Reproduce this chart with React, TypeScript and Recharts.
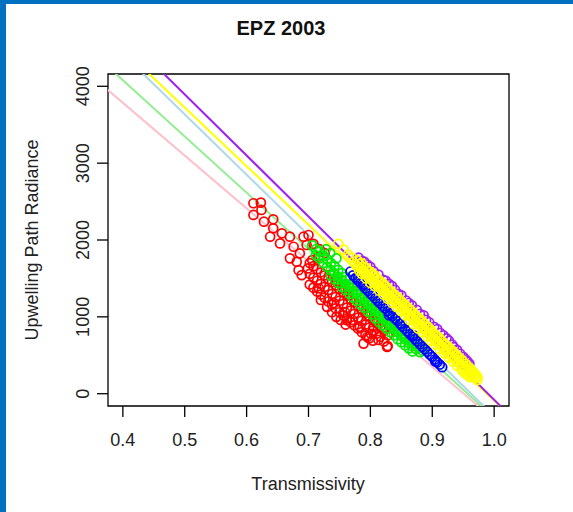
import { ReferenceArea, ReferenceLine, Scatter, ScatterChart, XAxis, YAxis } from 'recharts'

const xTicks = [0.4, 0.5, 0.6, 0.7, 0.8, 0.9, 1.0]
const yTicks = [0, 1000, 2000, 3000, 4000]

// transmissivity / radiance pairs
const redPoints = [
  [0.611, 2478], [0.623, 2486], [0.611, 2326], [0.624, 2391], [0.628, 2238], [0.643, 2269],
  [0.643, 2152], [0.638, 2043], [0.654, 1956], [0.657, 2087], [0.670, 2043], [0.676, 1912],
  [0.670, 1761], [0.681, 1716], [0.684, 1608], [0.689, 1543], [0.692, 2043], [0.700, 2065],
  [0.697, 1935], [0.686, 1826], [0.716, 1782], [0.706, 1739], [0.718, 1880], [0.726, 1830],
  [0.708, 1950], [0.827, 608], [0.805, 869], [0.762, 956], [0.789, 652], [0.795, 738],
  [0.702, 1700], [0.702, 1560], [0.702, 1420], [0.708, 1660], [0.708, 1510], [0.708, 1380],
  [0.714, 1620], [0.714, 1470], [0.714, 1330], [0.720, 1580], [0.720, 1430], [0.720, 1290],
  [0.726, 1540], [0.726, 1390], [0.726, 1250], [0.732, 1490], [0.732, 1350], [0.732, 1200],
  [0.738, 1450], [0.738, 1300], [0.738, 1160], [0.744, 1410], [0.744, 1260], [0.744, 1110],
  [0.750, 1360], [0.750, 1210], [0.750, 1060], [0.756, 1320], [0.756, 1170], [0.756, 1020],
  [0.762, 1280], [0.762, 1120], [0.762, 980], [0.768, 1230], [0.768, 1080], [0.768, 930],
  [0.774, 1190], [0.774, 1040], [0.774, 890], [0.780, 1140], [0.780, 990], [0.780, 850],
  [0.786, 1100], [0.786, 950], [0.786, 800], [0.792, 1050], [0.792, 900], [0.792, 760],
  [0.798, 1010], [0.798, 860], [0.798, 720], [0.804, 960], [0.804, 820], [0.804, 690],
  [0.810, 920], [0.810, 780], [0.816, 870], [0.816, 740], [0.822, 820], [0.822, 680],
  [0.828, 760], [0.828, 620], [0.735, 1550], [0.745, 1460], [0.755, 1370], [0.765, 1280],
  [0.775, 1190], [0.785, 1100], [0.795, 1010], [0.808, 940], [0.699, 1630], [0.717, 1370],
  [0.741, 1180], [0.759, 1060], [0.771, 960], [0.783, 870], [0.801, 780], [0.813, 700],
  [0.745, 1000], [0.752, 960], [0.760, 900], [0.730, 1130], [0.738, 1060], [0.720, 1220],
]

const greenPoints = [
  [0.706, 1930], [0.712, 1880], [0.712, 1800], [0.718, 1850], [0.718, 1760], [0.724, 1790],
  [0.724, 1700], [0.730, 1750], [0.730, 1650], [0.728, 1880], [0.735, 1830], [0.745, 1760],
  [0.736, 1700], [0.736, 1610], [0.736, 1540], [0.742, 1660], [0.742, 1570], [0.742, 1490],
  [0.748, 1610], [0.748, 1520], [0.748, 1440], [0.754, 1570], [0.754, 1480], [0.754, 1390],
  [0.760, 1520], [0.760, 1430], [0.760, 1350], [0.766, 1480], [0.766, 1390], [0.766, 1300],
  [0.772, 1430], [0.772, 1340], [0.772, 1250], [0.778, 1390], [0.778, 1300], [0.778, 1210],
  [0.784, 1340], [0.784, 1250], [0.784, 1160], [0.790, 1290], [0.790, 1200], [0.790, 1120],
  [0.796, 1250], [0.796, 1160], [0.796, 1070], [0.802, 1200], [0.802, 1110], [0.802, 1030],
  [0.808, 1150], [0.808, 1070], [0.808, 980], [0.814, 1110], [0.814, 1020], [0.814, 930],
  [0.820, 1060], [0.820, 980], [0.820, 890], [0.826, 1010], [0.826, 930], [0.826, 850],
  [0.832, 970], [0.832, 890], [0.832, 800], [0.838, 920], [0.838, 840], [0.838, 760],
  [0.844, 880], [0.844, 800], [0.844, 710], [0.850, 830], [0.850, 750], [0.850, 670],
  [0.856, 780], [0.856, 710], [0.856, 630], [0.862, 740], [0.862, 660], [0.862, 590],
  [0.868, 690], [0.868, 620], [0.868, 550], [0.874, 650], [0.874, 580], [0.880, 600],
  [0.880, 540], [0.885, 560],
]

const purplePoints = [
  [0.781, 1770], [0.786, 1730], [0.790, 1720], [0.795, 1680], [0.800, 1650], [0.805, 1595],
  [0.813, 1550], [0.821, 1480], [0.825, 1470], [0.830, 1430], [0.835, 1400], [0.840, 1350],
  [0.845, 1300], [0.850, 1280], [0.858, 1210], [0.862, 1180], [0.867, 1150], [0.875, 1090],
  [0.880, 1040], [0.886, 1020], [0.890, 960], [0.895, 930], [0.903, 870], [0.908, 840],
  [0.913, 790], [0.918, 760], [0.923, 720], [0.927, 690], [0.932, 640], [0.935, 605],
  [0.940, 570], [0.945, 520], [0.950, 480], [0.954, 445], [0.957, 420], [0.960, 390],
]

const bluePoints = [
  [0.768, 1590], [0.772, 1540], [0.776, 1505], [0.780, 1470], [0.784, 1440], [0.788, 1405],
  [0.792, 1370], [0.796, 1340], [0.800, 1305], [0.804, 1275], [0.808, 1240], [0.812, 1205],
  [0.816, 1175], [0.820, 1140], [0.824, 1110], [0.828, 1075], [0.832, 1045], [0.836, 1010],
  [0.840, 975], [0.844, 945], [0.848, 910], [0.852, 875], [0.856, 845], [0.860, 810],
  [0.864, 775], [0.868, 745], [0.872, 710], [0.876, 680], [0.880, 645], [0.884, 610],
  [0.888, 580], [0.892, 545], [0.896, 510], [0.900, 480], [0.904, 445], [0.908, 410],
  [0.912, 380], [0.916, 345], [0.790, 1420], [0.830, 1020], [0.870, 760], [0.905, 420],
  [0.780, 1500], [0.850, 910],
]

const yellowPoints = [
  [0.748, 1950], [0.757, 1875], [0.764, 1810], [0.770, 1770], [0.775, 1690],
  [0.779, 1735], [0.779, 1650], [0.782, 1690], [0.782, 1600], [0.786, 1700], [0.786, 1620],
  [0.786, 1560], [0.789, 1650], [0.789, 1575], [0.793, 1640], [0.793, 1560], [0.793, 1500],
  [0.796, 1600], [0.796, 1520], [0.800, 1590], [0.800, 1505], [0.800, 1440], [0.803, 1560],
  [0.803, 1470], [0.807, 1540], [0.807, 1460], [0.807, 1400], [0.810, 1500], [0.810, 1420],
  [0.814, 1480], [0.814, 1405], [0.814, 1340], [0.817, 1450], [0.817, 1370], [0.821, 1430],
  [0.821, 1350], [0.821, 1290], [0.824, 1400], [0.824, 1320], [0.828, 1370], [0.828, 1300],
  [0.828, 1235], [0.831, 1350], [0.831, 1260], [0.835, 1320], [0.835, 1245], [0.835, 1180],
  [0.838, 1290], [0.838, 1215], [0.842, 1270], [0.842, 1190], [0.842, 1130], [0.845, 1240],
  [0.845, 1160], [0.849, 1210], [0.849, 1140], [0.849, 1075], [0.852, 1180], [0.852, 1100],
  [0.856, 1160], [0.856, 1080], [0.856, 1020], [0.859, 1130], [0.859, 1050], [0.863, 1100],
  [0.863, 1030], [0.863, 960], [0.866, 1080], [0.866, 1000], [0.870, 1050], [0.870, 975],
  [0.870, 905], [0.873, 1020], [0.873, 940], [0.877, 990], [0.877, 920], [0.877, 850],
  [0.880, 970], [0.880, 890], [0.884, 940], [0.884, 865], [0.884, 800], [0.887, 910],
  [0.887, 835], [0.891, 880], [0.891, 810], [0.891, 745], [0.894, 860], [0.894, 780],
  [0.898, 830], [0.898, 755], [0.898, 690], [0.901, 800], [0.901, 725], [0.905, 770],
  [0.905, 700], [0.905, 640], [0.908, 750], [0.908, 670], [0.912, 720], [0.912, 645],
  [0.912, 580], [0.915, 690], [0.915, 615], [0.919, 660], [0.919, 590], [0.919, 525],
  [0.922, 640], [0.922, 560], [0.926, 610], [0.926, 535], [0.926, 470], [0.929, 580],
  [0.929, 505], [0.933, 555], [0.933, 480], [0.933, 420], [0.936, 530], [0.936, 450],
  [0.940, 500], [0.940, 430], [0.940, 365], [0.943, 470], [0.943, 400], [0.947, 445],
  [0.947, 375], [0.947, 320], [0.950, 420], [0.950, 350], [0.950, 290], [0.954, 390],
  [0.954, 320], [0.954, 260], [0.957, 360], [0.957, 295], [0.957, 240], [0.961, 330],
  [0.961, 270], [0.961, 215], [0.964, 300], [0.964, 245], [0.967, 280], [0.967, 220],
  [0.970, 250], [0.970, 200], [0.973, 220], [0.973, 180],
]

// fitted lines: radiance = intercept + slope * transmissivity
const fitIntercepts = [6534, 7007, 7560, 7537, 7868]
const fitSlopes = [-6872, -7320, -7852, -7627, -7947]

const pointSeries = [
  { name: 'red', points: redPoints, color: '#ff0000' },
  { name: 'green', points: greenPoints, color: '#00ee00' },
  { name: 'purple', points: purplePoints, color: '#a020f0' },
  { name: 'blue', points: bluePoints, color: '#0000ff' },
  { name: 'yellow', points: yellowPoints, color: '#ffff00' },
]
const fitColors = ['#ffc0cb', '#90ee90', '#add8e6', '#ffff00', '#a020f0']

const FONT = '"Liberation Sans", Arial, Helvetica, sans-serif'

const ring = (color: string) => (props: any) => (
  <circle cx={props.cx} cy={props.cy} r={4.5} fill="none" stroke={color} strokeWidth={1.7} />
)

const XTick = (props: any) => (
  <text x={props.x} y={props.y + 27} textAnchor="middle" fontSize={18} fontFamily={FONT} fill="#222">
    {props.payload.value.toFixed(1)}
  </text>
)

const YTick = (props: any) => {
  const bx = props.x - 6
  return (
    <text
      x={bx}
      y={props.y}
      transform={`rotate(-90 ${bx} ${props.y})`}
      textAnchor="middle"
      fontSize={18}
      fontFamily={FONT}
      fill="#222"
    >
      {props.payload.value}
    </text>
  )
}

export default function App() {
  return (
    <div style={{ position: 'absolute', left: 0, top: 0, width: 573, height: 512, background: '#fff', overflow: 'hidden' }}>
      <div style={{ position: 'absolute', left: 0, top: 0 }}>
        <ScatterChart width={573} height={512} margin={{ top: 74, right: 64, bottom: 0, left: 0 }}>
          <XAxis
            type="number"
            dataKey="x"
            domain={[0.376, 1.024]}
            ticks={xTicks}
            interval={0}
            allowDataOverflow
            axisLine={false}
            tickSize={11}
            tickLine={{ stroke: '#000', strokeWidth: 1.3 }}
            tick={<XTick />}
            height={106}
          />
          <YAxis
            type="number"
            dataKey="y"
            domain={[-160, 4160]}
            ticks={yTicks}
            interval={0}
            allowDataOverflow
            axisLine={false}
            tickSize={11}
            tickLine={{ stroke: '#000', strokeWidth: 1.3 }}
            tick={<YTick />}
            width={108}
          />
          {pointSeries.map((s) => (
            <Scatter
              key={s.name}
              name={s.name}
              data={s.points.map(([x, y]) => ({ x, y }))}
              shape={ring(s.color)}
              isAnimationActive={false}
            />
          ))}
          {fitIntercepts.map((b, i) => (
            <ReferenceLine
              key={`fit-${i}`}
              segment={[
                { x: 0.3, y: b + fitSlopes[i] * 0.3 },
                { x: 1.1, y: b + fitSlopes[i] * 1.1 },
              ]}
              stroke={fitColors[i]}
              strokeWidth={2}
              ifOverflow="hidden"
            />
          ))}
          <ReferenceArea x1={0.376} x2={1.024} y1={-160} y2={4160} fill="none" stroke="#000" strokeWidth={1.3} fillOpacity={0} ifOverflow="visible" />
        </ScatterChart>
      </div>
      <svg width={573} height={512} style={{ position: 'absolute', left: 0, top: 0, pointerEvents: 'none' }}>
        <text x={281} y={35} textAnchor="middle" fontSize={20} fontWeight="bold" fontFamily={FONT} fill="#111">
          EPZ 2003
        </text>
        <text x={308} y={490} textAnchor="middle" fontSize={18} fontFamily={FONT} fill="#222">
          Transmissivity
        </text>
        <text transform="translate(38 240) rotate(-90)" textAnchor="middle" fontSize={18} fontFamily={FONT} fill="#222">
          Upwelling Path Radiance
        </text>
      </svg>
      <div style={{ position: 'absolute', left: 0, top: 0, width: 6, height: 512, background: '#0070c0' }} />
      <div style={{ position: 'absolute', left: 0, top: 0, width: 573, height: 4, background: '#0070c0' }} />
    </div>
  )
}
